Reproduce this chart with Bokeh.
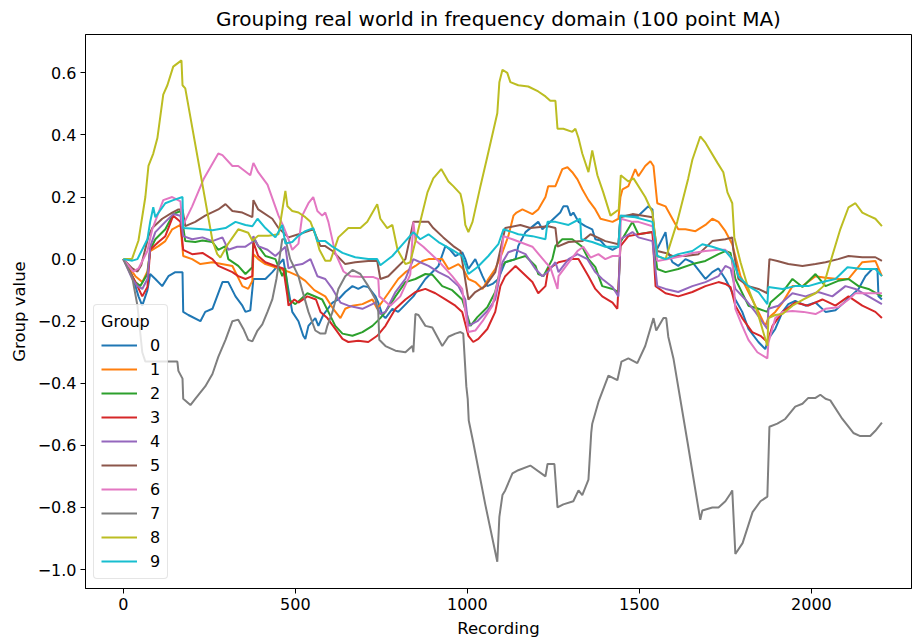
from bokeh.plotting import figure
from bokeh.models import FixedTicker, Legend, LegendItem, Range1d
from bokeh.embed import file_html
from bokeh.resources import INLINE

TITLE = "Grouping real world in frequency domain (100 point MA)"
X_LABEL = "Recording"
Y_LABEL = "Group value"
LEGEND_TITLE = "Group"
group_labels = ["0", "1", "2", "3", "4", "5", "6", "7", "8", "9"]
colors = ["#1f77b4", "#ff7f0e", "#2ca02c", "#d62728", "#9467bd",
          "#8c564b", "#e377c2", "#7f7f7f", "#bcbd22", "#17becf"]
x_ticks = [0, 500, 1000, 1500, 2000]
y_ticks = [-1.0, -0.8, -0.6, -0.4, -0.2, 0.0, 0.2, 0.4, 0.6]
y_tick_labels = ["\u22121.0", "\u22120.8", "\u22120.6", "\u22120.4", "\u22120.2", "0.0", "0.2", "0.4", "0.6"]

# (recording, group value) points
group0 = [(0,0),(15,-0.03),(29,-0.064),(44,-0.12),(55,-0.15),(70,-0.1),(78,-0.048),(93,-0.064),(113,-0.087),(131,-0.055),(151,-0.042),(172,-0.042),(174,-0.17),(189,-0.18),(224,-0.2),(238,-0.17),(259,-0.16),(288,-0.074),(305,-0.074),(326,-0.12),(346,-0.15),(355,-0.17),(369,-0.165),(378,-0.064),(413,-0.064),(433,-0.042),(465,0.0),(480,-0.1),(491,-0.17),(509,-0.2),(523,-0.247),(529,-0.257),(538,-0.215),(558,-0.19),(567,-0.215),(581,-0.18),(608,-0.14),(625,-0.13),(645,-0.106),(666,-0.087),(683,-0.096),(698,-0.087),(712,-0.09),(733,-0.12),(741,-0.14),(753,-0.18),(762,-0.19),(782,-0.16),(799,-0.17),(843,-0.12),(878,-0.064),(916,-0.022),(936,0.042),(950,0.03),(965,0.01),(985,0.022),(994,0.0),(1003,-0.032),(1023,0.0),(1044,-0.055),(1058,-0.087),(1073,-0.08),(1090,-0.064),(1110,-0.01),(1140,0.0),(1148,0.042),(1169,0.087),(1206,0.12),(1218,0.096),(1270,0.15),(1279,0.17),(1291,0.17),(1300,0.14),(1308,0.15),(1323,0.12),(1343,0.106),(1363,0.096),(1372,0.064),(1387,0.06),(1401,0.042),(1422,0.03),(1439,0.04),(1445,0.14),(1497,0.14),(1526,0.17),(1538,0.16),(1547,0.022),(1576,0.087),(1584,0.02),(1596,-0.01),(1613,-0.022),(1634,0.0),(1654,-0.01),(1692,-0.064),(1712,-0.042),(1730,-0.03),(1750,-0.064),(1765,-0.096),(1779,-0.13),(1799,-0.17),(1817,-0.225),(1846,-0.267),(1866,-0.29),(1875,-0.257),(1895,-0.225),(1916,-0.17),(1933,-0.145),(1953,-0.135),(1983,-0.15),(2012,-0.14),(2041,-0.17),(2070,-0.165),(2090,-0.145),(2137,-0.096),(2157,-0.055),(2177,-0.032),(2192,-0.032),(2195,-0.12),(2205,-0.13)]
group1 = [(0,0),(35,-0.055),(55,-0.074),(70,-0.04),(78,0.026),(102,0.042),(122,0.058),(142,0.096),(166,0.11),(174,0.01),(200,0.0),(224,-0.016),(259,-0.01),(317,-0.022),(346,-0.087),(363,-0.096),(375,-0.07),(378,0.016),(392,0.0),(413,-0.016),(442,-0.026),(483,-0.042),(509,-0.055),(529,-0.07),(555,-0.1),(587,-0.12),(610,-0.16),(631,-0.19),(645,-0.16),(666,-0.15),(695,-0.145),(724,-0.13),(738,-0.16),(770,-0.11),(799,-0.064),(820,-0.042),(849,-0.022),(869,-0.006),(887,0.0),(907,0.0),(927,0.0),(945,-0.032),(974,-0.016),(988,-0.032),(1003,-0.064),(1023,-0.074),(1044,-0.096),(1061,-0.064),(1081,-0.032),(1102,0.022),(1119,0.074),(1134,0.14),(1143,0.15),(1160,0.16),(1189,0.145),(1206,0.16),(1227,0.2),(1235,0.235),(1256,0.235),(1276,0.29),(1291,0.296),(1305,0.28),(1320,0.257),(1334,0.225),(1352,0.19),(1372,0.16),(1387,0.13),(1422,0.12),(1439,0.13),(1445,0.2),(1451,0.225),(1468,0.235),(1488,0.29),(1497,0.267),(1517,0.3),(1532,0.315),(1541,0.3),(1552,0.18),(1576,0.17),(1596,0.13),(1613,0.096),(1634,0.096),(1663,0.09),(1692,0.11),(1712,0.13),(1730,0.12),(1750,0.09),(1770,0.048),(1794,-0.055),(1817,-0.106),(1846,-0.17),(1866,-0.215),(1875,-0.19),(1895,-0.17),(1916,-0.14),(1945,-0.087),(1974,-0.087),(2012,-0.055),(2041,-0.06),(2078,-0.064),(2108,-0.064),(2148,-0.01),(2186,-0.006),(2205,-0.055)]
group2 = [(0,0),(35,-0.074),(49,-0.087),(70,-0.048),(78,0.03),(93,0.064),(122,0.096),(145,0.145),(166,0.155),(172,0.12),(180,0.058),(209,0.055),(230,0.06),(259,0.055),(276,0.03),(297,0.042),(305,0.0),(334,-0.022),(355,-0.048),(375,-0.026),(378,0.07),(392,0.042),(413,0.01),(442,0.0),(462,-0.055),(471,-0.03),(480,-0.13),(500,-0.145),(535,-0.11),(578,-0.13),(596,-0.17),(616,-0.215),(637,-0.24),(666,-0.247),(695,-0.235),(724,-0.215),(747,-0.19),(762,-0.17),(791,-0.12),(820,-0.074),(849,-0.064),(878,-0.048),(898,-0.05),(927,-0.087),(956,-0.1),(985,-0.13),(1009,-0.215),(1029,-0.187),(1058,-0.155),(1081,-0.106),(1096,-0.032),(1110,-0.01),(1140,0.0),(1169,0.01),(1198,-0.022),(1206,-0.048),(1221,-0.055),(1247,0.0),(1256,0.042),(1276,0.064),(1305,0.064),(1334,0.04),(1352,0.0),(1372,-0.026),(1392,-0.087),(1422,-0.096),(1439,-0.106),(1445,0.055),(1480,0.12),(1497,0.08),(1538,0.087),(1552,-0.032),(1576,-0.042),(1613,-0.032),(1654,-0.016),(1692,-0.006),(1730,0.016),(1750,0.026),(1765,0.02),(1779,-0.064),(1817,-0.15),(1846,-0.16),(1872,-0.17),(1881,-0.14),(1916,-0.106),(1945,-0.064),(1974,-0.09),(2012,-0.048),(2041,-0.087),(2078,-0.07),(2108,-0.064),(2137,-0.087),(2166,-0.096),(2205,-0.12)]
group3 = [(0,0),(41,-0.087),(55,-0.12),(70,-0.09),(78,0.03),(102,0.055),(122,0.074),(145,0.14),(166,0.12),(174,0.03),(200,0.016),(230,0.02),(259,0.0),(276,-0.022),(317,-0.042),(334,-0.055),(355,-0.064),(375,-0.055),(378,0.055),(392,0.01),(413,-0.01),(442,-0.022),(465,-0.03),(477,-0.12),(480,-0.15),(497,-0.13),(509,-0.14),(535,-0.12),(560,-0.13),(573,-0.17),(593,-0.19),(616,-0.225),(637,-0.257),(654,-0.267),(683,-0.263),(712,-0.267),(738,-0.247),(762,-0.215),(791,-0.16),(820,-0.13),(849,-0.106),(878,-0.096),(907,-0.11),(936,-0.13),(965,-0.15),(985,-0.17),(1003,-0.247),(1017,-0.267),(1032,-0.257),(1058,-0.225),(1081,-0.17),(1096,-0.087),(1110,-0.055),(1140,-0.022),(1189,-0.074),(1206,-0.11),(1227,-0.087),(1235,-0.032),(1265,-0.01),(1305,0.0),(1323,0.0),(1352,-0.055),(1372,-0.096),(1392,-0.12),(1422,-0.14),(1436,-0.16),(1445,0.042),(1468,0.074),(1497,0.08),(1538,0.087),(1547,-0.087),(1576,-0.11),(1613,-0.12),(1654,-0.106),(1692,-0.087),(1730,-0.074),(1750,-0.08),(1765,-0.09),(1779,-0.15),(1799,-0.19),(1828,-0.235),(1852,-0.247),(1872,-0.267),(1887,-0.215),(1916,-0.17),(1953,-0.14),(1991,-0.15),(2032,-0.13),(2070,-0.15),(2108,-0.12),(2148,-0.15),(2186,-0.17),(2205,-0.19)]
group4 = [(0,0),(26,-0.064),(41,-0.087),(55,-0.096),(70,-0.064),(78,0.04),(93,0.087),(122,0.12),(145,0.145),(166,0.14),(174,0.074),(200,0.064),(230,0.07),(259,0.058),(288,0.07),(305,0.03),(331,0.04),(355,0.04),(375,0.055),(378,0.074),(392,0.042),(419,0.03),(442,0.01),(471,0.04),(480,-0.03),(500,-0.02),(520,-0.016),(544,0.0),(564,-0.055),(587,-0.064),(608,-0.096),(631,-0.14),(654,-0.15),(695,-0.16),(733,-0.14),(747,-0.177),(762,-0.17),(791,-0.106),(820,-0.064),(843,0.0),(863,-0.01),(887,-0.022),(916,-0.042),(945,-0.058),(974,-0.087),(994,-0.13),(1003,-0.215),(1029,-0.2),(1058,-0.167),(1081,-0.13),(1102,-0.01),(1119,0.022),(1140,0.03),(1169,0.016),(1198,-0.032),(1218,-0.055),(1235,-0.04),(1256,-0.01),(1265,-0.042),(1294,0.0),(1320,0.016),(1349,0.0),(1372,-0.042),(1392,-0.064),(1422,-0.09),(1439,-0.12),(1445,0.064),(1480,0.087),(1497,0.07),(1538,0.058),(1552,-0.087),(1576,-0.096),(1613,-0.106),(1654,-0.087),(1692,-0.074),(1730,-0.055),(1750,-0.022),(1765,-0.03),(1779,-0.096),(1808,-0.13),(1837,-0.17),(1872,-0.225),(1875,-0.16),(1904,-0.15),(1945,-0.11),(1983,-0.12),(2020,-0.106),(2061,-0.12),(2099,-0.087),(2128,-0.096),(2166,-0.12),(2205,-0.145)]
group5 = [(0,0),(26,-0.03),(41,-0.04),(52,-0.02),(73,0.074),(84,0.1),(113,0.13),(142,0.15),(160,0.16),(172,0.16),(180,0.106),(209,0.12),(238,0.14),(276,0.16),(297,0.177),(317,0.155),(346,0.15),(375,0.135),(378,0.19),(392,0.16),(433,0.13),(451,0.1),(480,0.07),(509,0.08),(529,0.087),(552,0.096),(573,0.042),(587,0.042),(608,0.026),(645,-0.016),(674,-0.01),(712,-0.006),(738,-0.006),(747,-0.064),(770,-0.055),(791,-0.032),(820,0.0),(843,0.12),(887,0.12),(901,0.1),(930,0.07),(959,0.042),(980,0.026),(988,-0.026),(1003,-0.13),(1023,-0.106),(1052,-0.087),(1081,-0.042),(1096,0.03),(1110,0.1),(1154,0.11),(1183,0.1),(1235,0.106),(1256,0.1),(1262,0.04),(1294,0.055),(1334,0.058),(1358,0.08),(1378,0.07),(1401,0.058),(1439,0.048),(1445,0.135),(1480,0.145),(1538,0.135),(1552,0.026),(1576,0.02),(1596,0.01),(1634,0.01),(1672,0.016),(1712,0.058),(1750,0.064),(1770,0.07),(1773,0.03),(1788,-0.064),(1817,-0.087),(1846,-0.096),(1872,-0.11),(1878,0.0),(1901,-0.006),(1933,-0.016),(1974,-0.022),(2012,-0.016),(2041,-0.01),(2078,0.0),(2108,0.01),(2148,0.006),(2186,0.006),(2205,-0.006)]
group6 = [(0,0),(29,-0.04),(44,-0.03),(70,0.026),(84,0.096),(116,0.19),(142,0.2),(166,0.186),(172,0.106),(200,0.17),(233,0.257),(276,0.34),(288,0.335),(317,0.3),(334,0.3),(369,0.27),(378,0.31),(392,0.28),(419,0.24),(451,0.14),(465,0.106),(480,0.064),(491,0.03),(509,0.05),(520,0.14),(538,0.18),(552,0.2),(564,0.155),(578,0.14),(587,0.15),(596,0.12),(616,0.02),(640,-0.04),(660,-0.055),(695,-0.058),(727,-0.058),(741,-0.064),(744,-0.12),(776,-0.15),(805,-0.12),(834,-0.05),(843,0.12),(849,0.06),(872,0.04),(916,-0.006),(956,-0.055),(985,-0.096),(1003,-0.235),(1023,-0.23),(1044,-0.2),(1073,-0.15),(1090,-0.064),(1105,0.074),(1131,0.064),(1189,0.04),(1227,-0.01),(1241,-0.026),(1262,-0.096),(1265,-0.055),(1291,-0.016),(1320,0.026),(1337,0.04),(1358,0.005),(1381,0.016),(1401,0.0),(1422,0.01),(1443,0.01),(1446,0.13),(1480,0.12),(1497,0.12),(1538,0.106),(1552,-0.006),(1584,0.0),(1625,0.01),(1654,0.02),(1692,0.026),(1730,0.03),(1750,0.03),(1770,0.0),(1779,-0.16),(1799,-0.215),(1817,-0.26),(1843,-0.3),(1872,-0.32),(1875,-0.27),(1895,-0.19),(1916,-0.17),(1945,-0.167),(1977,-0.17),(2012,-0.177),(2041,-0.16),(2078,-0.155),(2108,-0.13),(2128,-0.11),(2166,-0.11),(2205,-0.11)]
group7 = [(0,0),(26,-0.06),(41,-0.15),(55,-0.3),(64,-0.33),(145,-0.33),(157,-0.33),(160,-0.36),(172,-0.385),(174,-0.45),(195,-0.47),(209,-0.45),(238,-0.41),(259,-0.37),(276,-0.315),(297,-0.26),(317,-0.2),(334,-0.195),(349,-0.225),(363,-0.26),(375,-0.265),(390,-0.23),(404,-0.21),(419,-0.17),(433,-0.13),(445,-0.064),(462,0.064),(471,0.064),(485,0.0),(509,-0.055),(520,-0.1),(538,-0.17),(558,-0.23),(573,-0.24),(587,-0.24),(593,-0.215),(608,-0.17),(625,-0.096),(645,-0.055),(666,-0.035),(689,-0.048),(712,-0.087),(733,-0.13),(741,-0.17),(744,-0.26),(762,-0.28),(791,-0.295),(820,-0.3),(840,-0.28),(843,-0.3),(849,-0.177),(858,-0.18),(878,-0.215),(898,-0.22),(927,-0.28),(945,-0.25),(965,-0.24),(980,-0.235),(988,-0.24),(997,-0.41),(1001,-0.45),(1004,-0.52),(1017,-0.59),(1052,-0.79),(1087,-0.975),(1093,-0.83),(1102,-0.76),(1110,-0.745),(1131,-0.69),(1148,-0.68),(1183,-0.665),(1227,-0.7),(1233,-0.66),(1253,-0.66),(1262,-0.8),(1279,-0.79),(1308,-0.78),(1323,-0.745),(1334,-0.76),(1352,-0.71),(1360,-0.56),(1363,-0.53),(1381,-0.46),(1410,-0.375),(1436,-0.39),(1448,-0.33),(1468,-0.32),(1494,-0.335),(1517,-0.28),(1541,-0.19),(1549,-0.23),(1570,-0.19),(1578,-0.19),(1584,-0.25),(1599,-0.32),(1640,-0.59),(1677,-0.84),(1683,-0.81),(1712,-0.8),(1730,-0.8),(1750,-0.78),(1765,-0.755),(1770,-0.745),(1779,-0.95),(1800,-0.915),(1829,-0.815),(1852,-0.78),(1872,-0.765),(1878,-0.54),(1901,-0.53),(1924,-0.515),(1953,-0.475),(1974,-0.466),(1991,-0.447),(2012,-0.447),(2026,-0.437),(2041,-0.45),(2055,-0.455),(2090,-0.515),(2122,-0.56),(2142,-0.57),(2171,-0.57),(2186,-0.553),(2205,-0.527)]
group8 = [(0,0),(25,0),(44,0.06),(64,0.2),(73,0.3),(87,0.34),(99,0.39),(116,0.53),(128,0.56),(145,0.62),(169,0.64),(172,0.56),(180,0.55),(259,0.06),(273,0.016),(282,0.005),(305,0.05),(334,0.096),(363,0.085),(375,0.06),(392,0.075),(422,0.075),(451,0.08),(471,0.22),(477,0.17),(491,0.155),(509,0.15),(529,0.135),(544,0.12),(558,0.08),(570,0.03),(587,-0.005),(602,-0.005),(625,0.07),(654,0.1),(689,0.1),(709,0.12),(738,0.177),(747,0.13),(767,0.1),(782,0.11),(797,0.03),(820,-0.016),(834,-0.01),(863,0.12),(884,0.215),(901,0.26),(924,0.29),(945,0.25),(959,0.235),(980,0.21),(988,0.17),(994,0.11),(1003,0.087),(1015,0.12),(1038,0.235),(1058,0.33),(1087,0.47),(1093,0.57),(1102,0.61),(1116,0.6),(1125,0.57),(1148,0.56),(1177,0.556),(1206,0.54),(1227,0.524),(1241,0.51),(1256,0.51),(1262,0.42),(1279,0.42),(1305,0.41),(1314,0.42),(1323,0.39),(1334,0.34),(1352,0.28),(1363,0.35),(1378,0.27),(1395,0.215),(1416,0.14),(1440,0.16),(1446,0.27),(1468,0.25),(1483,0.26),(1517,0.2),(1538,0.15),(1547,0.06),(1552,0.01),(1576,0.0),(1610,0.12),(1642,0.26),(1654,0.32),(1677,0.395),(1692,0.375),(1727,0.31),(1744,0.28),(1756,0.215),(1770,0.18),(1776,0.07),(1794,-0.01),(1817,-0.096),(1843,-0.17),(1872,-0.28),(1875,-0.19),(1895,-0.18),(1916,-0.177),(1945,-0.15),(1977,-0.13),(2012,-0.11),(2035,-0.087),(2055,-0.01),(2084,0.096),(2108,0.167),(2128,0.18),(2148,0.15),(2166,0.14),(2186,0.13),(2205,0.106)]
group9 = [(0,0),(26,-0.005),(41,0.0),(70,0.064),(78,0.12),(87,0.167),(93,0.135),(122,0.18),(145,0.19),(172,0.2),(174,0.1),(230,0.096),(259,0.093),(297,0.1),(326,0.12),(355,0.11),(375,0.106),(390,0.13),(413,0.1),(442,0.07),(462,0.11),(471,0.05),(491,0.055),(509,0.075),(529,0.09),(552,0.1),(564,0.058),(587,0.058),(608,0.04),(637,0.02),(674,0.006),(712,0.0),(738,0.0),(747,-0.02),(782,0.01),(820,0.058),(843,0.087),(863,0.064),(887,0.08),(916,0.055),(956,0.03),(985,0.01),(1003,-0.048),(1029,-0.026),(1061,0.01),(1090,0.048),(1105,0.096),(1131,0.087),(1148,0.08),(1189,0.074),(1227,0.064),(1233,0.12),(1256,0.12),(1294,0.11),(1328,0.13),(1331,0.064),(1363,0.055),(1401,0.04),(1439,0.04),(1445,0.14),(1488,0.135),(1538,0.12),(1552,0.01),(1576,0.0),(1613,0.016),(1654,0.026),(1683,0.048),(1712,0.04),(1750,0.026),(1770,0.0),(1788,-0.055),(1817,-0.087),(1846,-0.106),(1872,-0.145),(1875,-0.09),(1916,-0.096),(1953,-0.087),(1991,-0.087),(2032,-0.074),(2070,-0.064),(2105,-0.026),(2148,-0.032),(2186,-0.032),(2205,-0.055)]

groups = [group0, group1, group2, group3, group4, group5, group6, group7, group8, group9]

FONT = "DejaVu Sans"

p = figure(width=913, height=640, output_backend="svg", toolbar_location=None,
           x_range=Range1d(-110, 2291), y_range=Range1d(-1.061, 0.7235),
           min_border_left=85, min_border_right=2, min_border_top=34, min_border_bottom=50,
           title=TITLE)
p.background_fill_color = "white"
p.border_fill_color = "white"
p.grid.visible = False
p.outline_line_color = "black"
p.outline_line_width = 1
p.outline_line_alpha = 1.0

p.title.align = "center"
p.title.text_font = FONT
p.title.text_font_size = "20px"
p.title.text_font_style = "normal"
p.title.text_color = "black"
p.title.standoff = 8

for ax in (p.xaxis[0], p.yaxis[0]):
    ax.axis_line_color = "black"
    ax.major_tick_line_color = "black"
    ax.major_tick_out = 5
    ax.major_tick_in = 0
    ax.minor_tick_line_color = None
    ax.major_label_text_font = FONT
    ax.major_label_text_font_size = "16px"
    ax.major_label_text_color = "black"
    ax.axis_label_text_font = FONT
    ax.axis_label_text_font_size = "16.5px"
    ax.axis_label_text_font_style = "normal"
    ax.axis_label_text_color = "black"
    ax.major_label_standoff = 4

p.xaxis.ticker = FixedTicker(ticks=x_ticks)
p.yaxis.ticker = FixedTicker(ticks=y_ticks)
p.yaxis.major_label_overrides = {t: lab for t, lab in zip(y_ticks, y_tick_labels)}
p.xaxis.axis_label = X_LABEL
p.yaxis.axis_label = Y_LABEL
p.xaxis.axis_label_standoff = 6
p.yaxis.axis_label_standoff = 6

items = []
for lab, pts, col in zip(group_labels, groups, colors):
    xs = [a for a, b in pts]
    ys = [b for a, b in pts]
    r = p.line(xs, ys, line_color=col, line_width=2)
    items.append(LegendItem(label=lab, renderers=[r]))

legend = Legend(items=items, title=LEGEND_TITLE, location=(8, 9))
legend.title_text_font = FONT
legend.title_text_font_size = "16px"
legend.title_text_font_style = "normal"
legend.title_text_color = "black"
legend.title_standoff = 4
legend.label_text_font = FONT
legend.label_text_font_size = "16px"
legend.label_text_color = "black"
legend.glyph_width = 36
legend.glyph_height = 20
legend.label_height = 20
legend.label_width = 10
legend.label_standoff = 13
legend.spacing = 4
legend.padding = 7
legend.margin = 0
legend.border_line_color = "#cccccc"
legend.border_line_width = 1
legend.background_fill_alpha = 0.8
if "border_radius" in legend.properties():
    legend.border_radius = 4
p.add_layout(legend)

open("out.html", "w").write(file_html(p, INLINE))
